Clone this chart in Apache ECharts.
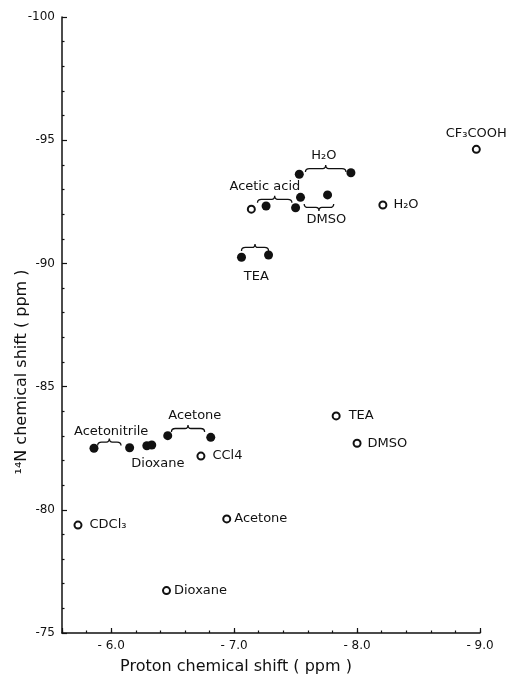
<!DOCTYPE html>
<html>
<head>
<meta charset="utf-8">
<script src="https://cdn.jsdelivr.net/npm/echarts@6/dist/echarts.min.js"></script>
<style>
  html, body { margin: 0; padding: 0; background: #fff; }
  #chart { width: 510px; height: 681px; }
</style>
</head>
<body>
<div id="chart"></div>
<script>
// Proton shift (ppm) vs 14N shift (ppm)

// Solid circles: paired measurements in each solvent
const filledX = [-7.53, -7.95, -7.54, -7.76, -7.26, -7.50, -7.06, -7.28,
                 -5.86, -6.15, -6.29, -6.33, -6.46, -6.81];
const filledY = [-93.62, -93.68, -92.68, -92.78, -92.33, -92.26, -90.25, -90.34,
                 -82.50, -82.52, -82.60, -82.63, -83.01, -82.94];

// Open circles: single measurements
const openNames = ['CF₃COOH', 'H₂O', '', 'TEA', 'DMSO', 'CCl4', 'CDCl₃', 'Acetone', 'Dioxane'];
const openX = [-8.97, -8.21, -7.14, -7.83, -8.00, -6.73, -5.73, -6.94, -6.45];
const openY = [-94.63, -92.37, -92.20, -83.81, -82.70, -82.18, -79.38, -79.63, -76.72];

// Braces joining each pair: from x, to x, level y, side of the pair
const braceFrom = [-5.89, -6.49, -7.19, -7.58, -7.57, -7.06];
const braceTo   = [-6.08, -6.76, -7.47, -7.91, -7.81, -7.28];
const braceY    = [-82.75, -83.30, -92.60, -93.85, -92.27, -90.65];
const braceSide = ['above', 'above', 'above', 'above', 'below', 'above'];

// Names of the pairs, centred on an anchor point
const groupNames = ['H₂O', 'Acetic acid', 'DMSO', 'TEA', 'Acetonitrile', 'Acetone', 'Dioxane'];
const groupX = [-7.73, -7.25, -7.75, -7.18, -6.00, -6.68, -6.38];
const groupY = [-94.37, -93.11, -91.76, -89.45, -83.17, -83.84, -81.86];

// Axis ticks
const xTicks = [-9.0, -8.0, -7.0, -6.0];
const yTicks = [-100, -95, -90, -85, -80, -75];

// label placement for the open circles (style only)
const openLabelPos = ['top', 'right', 'right', 'right', 'right', 'right', 'right', 'right', 'right'];
const openLabelGap = [5, 6, 6, 8, 6, 7, 7, 3, 3];

const FONT = 'DejaVu Sans';
const INK = '#111';

const chart = echarts.init(document.getElementById('chart'), null, { renderer: 'canvas' });

const openData = openX.map((x, i) => ({
  value: [x, openY[i]],
  label: {
    show: openNames[i] !== '',
    formatter: openNames[i],
    position: openLabelPos[i],
    distance: openLabelGap[i]
  }
}));

const braceData = braceFrom.map((x, i) => [x, braceTo[i], braceY[i], braceSide[i] === 'above' ? 1 : -1]);

function renderBrace(params, api) {
  const a = api.coord([api.value(0), api.value(2)]);
  const b = api.coord([api.value(1), api.value(2)]);
  const s = api.value(3);          // 1: ends hook down, tip points up
  const h = 3.5;
  const y = (a[1] + b[1]) / 2;
  const xl = Math.min(a[0], b[0]);
  const xr = Math.max(a[0], b[0]);
  const m = (xl + xr) / 2;
  const d = 'M' + xl + ' ' + (y + s * h) +
    ' Q' + xl + ' ' + y + ' ' + (xl + 4) + ' ' + y +
    ' L' + (m - 3) + ' ' + y +
    ' Q' + m + ' ' + y + ' ' + m + ' ' + (y - s * h) +
    ' Q' + m + ' ' + y + ' ' + (m + 3) + ' ' + y +
    ' L' + (xr - 4) + ' ' + y +
    ' Q' + xr + ' ' + y + ' ' + xr + ' ' + (y + s * h);
  return {
    type: 'path',
    shape: { pathData: d },
    style: { fill: null, stroke: INK, lineWidth: 1.3 }
  };
}

function renderGroupLabel(params, api) {
  const p = api.coord([api.value(0), api.value(1)]);
  return {
    type: 'text',
    x: p[0], y: p[1],
    style: {
      text: groupNames[params.dataIndex],
      font: '13px "' + FONT + '"',
      fill: INK,
      align: 'center',
      verticalAlign: 'middle'
    }
  };
}

const option = {
  backgroundColor: '#fff',
  animation: false,
  grid: { left: 62, right: 30, top: 17, bottom: 48, containLabel: false, outerBoundsMode: 'none' },
  xAxis: [
    {
      type: 'value',
      min: -9.0, max: -5.6, interval: 1, inverse: true,
      position: 'bottom',
      name: 'Proton chemical shift ( ppm )',
      nameLocation: 'middle',
      nameGap: 26,
      nameMoveOverlap: false,
      nameTextStyle: { fontFamily: FONT, fontSize: 16, color: INK, padding: [0, 70, 0, 0] },
      axisLine: { show: true, onZero: false, lineStyle: { color: INK, width: 1.5 } },
      axisTick: { show: true, inside: true, length: 5, lineStyle: { color: INK, width: 1.2 } },
      axisLabel: {
        show: true, margin: 7, fontFamily: FONT, fontSize: 12, color: INK,
        formatter: v => (xTicks.some(t => Math.abs(t - v) < 1e-6) ? '- ' + Math.abs(v).toFixed(1) : '')
      },
      splitLine: { show: false }
    },
    {
      type: 'value',
      min: -9.0, max: -5.6, interval: 0.2, inverse: true,
      position: 'bottom',
      axisLine: { show: false },
      axisTick: { show: true, inside: true, length: 2.5, lineStyle: { color: INK, width: 1.2 } },
      axisLabel: { show: false },
      splitLine: { show: false }
    }
  ],
  yAxis: {
    type: 'value',
    min: -100, max: -75, interval: 5, inverse: true,
    name: '¹⁴N chemical shift ( ppm )',
    nameLocation: 'middle',
    nameGap: 32,
    nameMoveOverlap: false,
    nameTextStyle: { fontFamily: FONT, fontSize: 16, color: INK, padding: [0, 94, 0, 0] },
    axisLine: { show: true, onZero: false, lineStyle: { color: INK, width: 1.5 } },
    axisTick: { show: true, inside: true, length: 5, lineStyle: { color: INK, width: 1.2 } },
    minorTick: { show: true, splitNumber: 5, length: 2.5, lineStyle: { color: INK, width: 1.2 } },
    axisLabel: {
      margin: 7, fontFamily: FONT, fontSize: 12, color: INK,
      formatter: v => (yTicks.indexOf(v) >= 0 ? '-' + Math.abs(v) : '')
    },
    splitLine: { show: false },
    minorSplitLine: { show: false }
  },
  series: [
    {
      type: 'scatter',
      name: 'paired',
      xAxisIndex: 0,
      symbol: 'circle',
      symbolSize: 9,
      itemStyle: { color: INK, opacity: 1 },
      data: filledX.map((x, i) => [x, filledY[i]]),
      z: 3
    },
    {
      type: 'scatter',
      name: 'single',
      xAxisIndex: 0,
      symbol: 'emptyCircle',
      symbolSize: 7,
      itemStyle: { color: INK, borderColor: INK, borderWidth: 1.6, opacity: 1 },
      label: { fontFamily: FONT, fontSize: 13, color: INK },
      data: openData,
      z: 3
    },
    {
      type: 'custom',
      name: 'braces',
      xAxisIndex: 0,
      renderItem: renderBrace,
      data: braceData,
      silent: true,
      z: 2
    },
    {
      type: 'custom',
      name: 'pair names',
      xAxisIndex: 0,
      renderItem: renderGroupLabel,
      data: groupX.map((x, i) => [x, groupY[i]]),
      silent: true,
      z: 2
    }
  ]
};

chart.setOption(option);
</script>
</body>
</html>
